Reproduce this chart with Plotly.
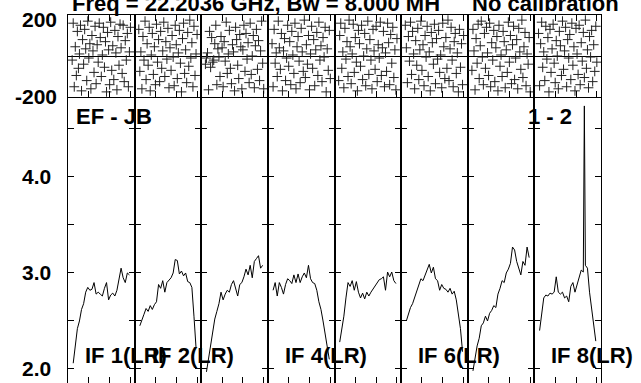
import plotly.graph_objects as go

# ---------------- data ----------------
AMP_CH = [5, 7, 9, 11, 13, 15, 17, 19, 21, 23, 25, 27, 29, 31, 33, 35, 37, 39, 41, 43, 45, 47, 49, 51, 53, 55, 57, 59]
AMP_CH8 = [5, 7, 9, 11, 13, 15, 17, 19, 21, 23, 25, 27, 29, 31, 33, 35, 37, 39, 41, 43, 45, 47, 48, 49, 51, 53, 55, 57, 59]
PHASE_CH = list(range(4, 61))

AMP_IF1 = [2.06, 2.25, 2.42, 2.50, 2.62, 2.68, 2.80, 2.85, 2.82, 2.83, 2.90, 2.78, 2.80, 2.78, 2.76, 2.84, 2.90, 2.72, 2.77, 2.79, 2.76, 2.82, 2.93, 3.05, 2.95, 2.90, 3.00, 2.98]
AMP_IF2 = [2.45, 2.52, 2.57, 2.63, 2.60, 2.66, 2.62, 2.67, 2.70, 2.88, 2.84, 2.92, 2.80, 2.90, 2.93, 2.95, 3.00, 3.14, 3.13, 2.99, 3.02, 2.97, 3.00, 2.91, 2.90, 2.85, 2.55, 2.22]
AMP_IF3 = [1.97, 2.12, 2.27, 2.40, 2.52, 2.60, 2.68, 2.80, 2.72, 2.78, 2.82, 2.80, 2.88, 2.92, 2.85, 2.76, 2.88, 2.90, 2.96, 3.04, 2.98, 3.08, 2.95, 3.12, 3.15, 3.18, 3.05, 3.08]
AMP_IF4 = [2.82, 2.90, 2.76, 2.90, 2.85, 2.78, 2.88, 2.94, 2.92, 2.89, 2.98, 2.90, 2.99, 2.90, 2.96, 3.00, 2.95, 3.08, 2.94, 2.90, 2.89, 2.82, 2.70, 2.62, 2.50, 2.36, 2.20, 2.10]
AMP_IF5 = [2.28, 2.40, 2.55, 2.74, 2.90, 2.86, 2.92, 2.82, 2.91, 2.80, 2.74, 2.79, 2.73, 2.80, 2.76, 2.80, 2.83, 2.86, 2.90, 2.93, 2.94, 2.96, 2.82, 3.01, 2.96, 3.01, 2.92, 2.89]
AMP_IF6 = [2.50, 2.58, 2.64, 2.68, 2.74, 2.80, 2.86, 2.94, 2.92, 2.98, 3.04, 3.09, 3.00, 3.06, 2.94, 2.92, 2.82, 2.88, 2.84, 2.83, 2.80, 2.84, 2.78, 2.81, 2.72, 2.55, 2.42, 2.18]
AMP_IF7 = [1.98, 2.12, 2.24, 2.32, 2.45, 2.48, 2.55, 2.50, 2.58, 2.61, 2.66, 2.64, 2.78, 2.84, 2.92, 2.90, 3.00, 3.04, 3.10, 3.27, 3.24, 3.12, 3.06, 2.98, 3.12, 3.08, 3.27, 3.16]
AMP_IF8 = [2.40, 2.58, 2.74, 2.77, 2.76, 2.79, 2.78, 2.80, 2.96, 2.80, 2.78, 2.80, 2.74, 2.76, 2.70, 2.86, 2.90, 2.80, 2.88, 2.95, 3.03, 3.01, 4.74, 3.08, 3.05, 2.80, 2.62, 2.46, 2.29]

PH_IF1 = [-20, 160, -150, 45, -95, 120, -60, 10, 150, -170, 80, -40, 130, 35, -120, 170, -10, 60, -160, 100, 25, -80, 145, -135, 55, -30, 160, 90, -100, 5, 140, -55, 70, -175, 115, 30, -140, 165, -70, 50, -115, 125, 15, -165, 95, -45, 155, 40, -85, 150, -125, 75, -20, 110, -150, 20, 140]
PH_IF2 = [130, -75, 20, -160, 95, -20, 170, -115, 60, -45, 140, -170, 5, 110, -90, 45, -140, 155, -30, 80, -125, 120, -60, 25, 165, -100, 70, -15, 135, -155, 40, -70, 100, -5, -145, 150, 55, -110, 15, 125, -35, -175, 85, 160, -85, 30, -130, 115, -50, 175, -10, 65, -150, 145, -95, 10, 105]
PH_IF3 = [-40, -10, 15, -165, 120, -55, 90, -30, -20, 60, 150, -140, 35, -5, -100, 95, 40, -150, 70, -25, 165, -85, 10, 125, -60, -135, 55, 20, -170, 140, 80, -45, -110, 105, 45, -160, 30, 150, -75, 110, -15, 65, -130, 160, -90, 0, 100, -155, 50, 130, -65, 75, -120, 25, 170, -35, -160]
PH_IF4 = [60, -150, 130, -35, 15, -100, 170, 40, -65, 110, -170, 25, 85, -120, -10, 150, -50, 70, -140, 120, 5, -85, 160, -160, 45, 95, -25, -130, 135, 20, -75, 175, -105, 55, -40, 100, -165, 10, 145, -60, 80, -145, 30, 115, -95, 165, -20, 50, -125, 90, -5, 140, -175, 35, -70, 125, -110]
PH_IF5 = [-120, 100, 160, -60, 20, -155, 135, -15, 70, -100, 175, 45, -135, 10, 155, -80, 90, -30, -170, 125, 60, -50, 150, -115, 0, 110, -145, 35, 170, -90, 80, -20, -160, 130, 25, -65, 145, -125, 55, -10, 165, -95, 40, 120, -150, 15, -75, 160, 65, -140, 105, -35, 140, -105, 30, -165, 85]
PH_IF6 = [150, 40, -130, 95, -25, 165, -90, 120, 10, -160, 75, -45, 135, -115, 30, 170, -70, 55, -145, 100, -5, 145, -100, 20, -170, 115, 65, -40, 155, -135, 85, -15, 125, -80, 5, -155, 160, 45, -110, 90, -60, 175, -120, 35, 140, -20, -150, 70, 110, -85, 15, -175, 130, -55, 60, -140, 100]
PH_IF7 = [-70, 130, 25, -165, 85, -35, 155, -110, 50, 170, -5, -140, 110, -60, 140, 15, -95, 160, -150, 65, -20, 125, -125, 40, 95, -170, 150, -50, 5, -100, 120, 70, -155, 30, -80, 165, -30, 100, -135, 55, 145, -115, -10, 80, -160, 135, 20, -65, 175, -105, 45, 115, -145, 10, -40, 90, -175]
PH_IF8 = [110, -145, 60, 165, -55, 20, -120, 145, -15, 90, -175, 130, -80, 35, 155, -35, -130, 75, 0, -160, 120, 50, -95, 170, -65, 25, 140, -150, 80, -10, 105, -115, 160, -45, 45, -170, 135, 10, -90, 150, -140, 65, -25, 115, -105, 175, -60, 30, -155, 95, -5, 125, -125, 55, -75, 145, -30]

IF_LABELS = ["IF 1(LR)", "IF 2(LR)", "", "IF 4(LR)", "", "IF 6(LR)", "", "IF 8(LR)"]
AMP_TICKS = [2.0, 2.5, 3.0, 3.5, 4.0, 4.5]
AMP_TICK_LABELS = {2.0: "2.0", 3.0: "3.0", 4.0: "4.0"}
PHASE_LABELS = ["200", "-200"]
X_TICKS = [0, 20, 40, 60]
TITLE_LEFT = "Freq = 22.2036 GHz, Bw = 8.000 MH"
TITLE_RIGHT = "No calibration"
BASELINE = "EF - JB"
STOKES = "1 - 2"

AMPS = [AMP_IF1, AMP_IF2, AMP_IF3, AMP_IF4, AMP_IF5, AMP_IF6, AMP_IF7, AMP_IF8]
AMP_X = [AMP_CH] * 7 + [AMP_CH8]
PHASES = [PH_IF1, PH_IF2, PH_IF3, PH_IF4, PH_IF5, PH_IF6, PH_IF7, PH_IF8]

# ---------------- layout geometry ----------------
W, H = 641, 383
ML, MR, MT, MB = 68, 40, 15, 0
PW = W - ML - MR
PH = H - MT - MB


def px_x(px):
    return (px - ML) / PW


def px_y(py):
    return (H - MB - py) / PH


SPLIT = px_y(97)
NCOL = 8
FONT = "Liberation Sans, Arial, sans-serif"


def aid(i):
    return "" if i == 1 else str(i)


fig = go.Figure()
layout = dict(
    width=W, height=H,
    margin=dict(l=ML, r=MR, t=MT, b=MB, pad=0),
    paper_bgcolor="white", plot_bgcolor="white",
    showlegend=False,
    font=dict(family=FONT, color="black"),
)

for k in range(NCOL):
    a = k + 1          # amplitude axes id
    p = k + 1 + NCOL   # phase axes id
    dom = [k / NCOL, (k + 1) / NCOL]

    fig.add_trace(go.Scatter(
        x=AMP_X[k], y=AMPS[k], mode="lines",
        line=dict(color="black", width=1),
        xaxis="x" + aid(a), yaxis="y" + aid(a), hoverinfo="skip"))
    fig.add_trace(go.Scatter(
        x=PHASE_CH, y=PHASES[k], mode="markers",
        marker=dict(symbol="cross-thin", size=7,
                    line=dict(width=1, color="#222222")),
        xaxis="x" + aid(p), yaxis="y" + aid(p), hoverinfo="skip"))

    layout["xaxis" + aid(a)] = dict(
        domain=dom, anchor="y" + aid(a), range=[0, 64],
        tickvals=X_TICKS, ticks="inside", ticklen=6, tickcolor="black",
        showticklabels=False, showline=False, showgrid=False, zeroline=False)
    layout["yaxis" + aid(a)] = dict(
        domain=[0, SPLIT], anchor="x" + aid(a), range=[1.854, 4.833],
        tickvals=AMP_TICKS, ticks="inside", ticklen=6, tickcolor="black",
        showticklabels=False, showline=True, linecolor="black", linewidth=1,
        mirror="ticks", showgrid=False, zeroline=False)
    layout["xaxis" + aid(p)] = dict(
        domain=dom, anchor="y" + aid(p), range=[0, 64],
        tickvals=X_TICKS, ticks="inside", ticklen=6, tickcolor="black",
        showticklabels=False, showline=True, linecolor="black", linewidth=1,
        mirror="ticks", showgrid=False, zeroline=False)
    layout["yaxis" + aid(p)] = dict(
        domain=[SPLIT, 1], anchor="x" + aid(p), range=[-200, 200],
        ticks="", showticklabels=False, showline=True, linecolor="black",
        linewidth=1, mirror=True, showgrid=False,
        zeroline=True, zerolinecolor="black", zerolinewidth=1)

ann = []


def label(text, x, y, xanchor="left", size=22, xref="paper", yref="paper"):
    ann.append(dict(text="<b>" + text + "</b>", x=x, y=y, xref=xref, yref=yref,
                    xanchor=xanchor, yanchor="middle", showarrow=False,
                    font=dict(family=FONT, size=size, color="black")))


# title pieces
label(TITLE_LEFT, px_x(70), px_y(4))
label(TITLE_RIGHT, px_x(470), px_y(4))
# phase axis labels
label(PHASE_LABELS[0], px_x(59), px_y(19.5), xanchor="right", size=21)
label(PHASE_LABELS[1], px_x(59), px_y(96.5), xanchor="right", size=21)
# amplitude axis labels
for v, t in AMP_TICK_LABELS.items():
    label(t, px_x(53), v, xanchor="right", size=21, yref="y")
# baseline / stokes
label(BASELINE, px_x(74), px_y(116))
label(STOKES, px_x(574), px_y(116), xanchor="right")
# IF labels
for k, t in enumerate(IF_LABELS):
    if t:
        left = ML + k * PW / NCOL + 15
        label(t, px_x(left), px_y(355.5))

layout["annotations"] = ann
fig.update_layout(**layout)
fig.write_html(
    "out.html",
    config={"displayModeBar": False, "staticPlot": True},
    post_script="document.body.style.margin='0';document.body.style.overflow='hidden';",
)
